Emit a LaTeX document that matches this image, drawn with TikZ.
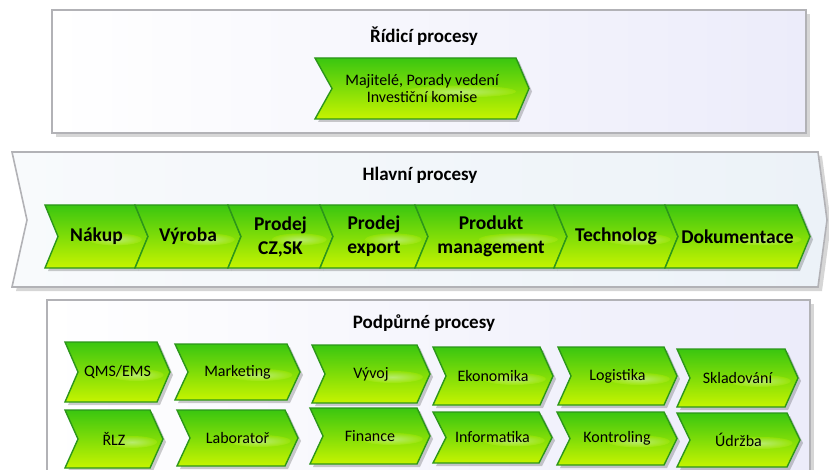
\documentclass[tikz,border=0pt]{standalone}
\usepackage{fontspec}
\setmainfont{Carlito}
\definecolor{chevtop}{RGB}{58,198,16}
\definecolor{chevmid}{RGB}{132,222,18}
\definecolor{chevbot}{RGB}{198,244,0}
\definecolor{chevline}{RGB}{44,150,26}
\definecolor{panelline}{RGB}{178,178,182}
\definecolor{panellav}{RGB}{236,236,250}
\definecolor{bannerleft}{RGB}{248,250,252}
\definecolor{bannerright}{RGB}{236,242,248}

% chevron: style, name, left, right (tip), top, bottom, notch depth, tip depth, label
\newcommand{\procchev}[9]{%
  \begin{scope}[shift={(3,3)}]
    \fill[chevshadow] (#3,#5) -- ({#4-#8},#5) -- (#4,{(#5+#6)/2}) -- ({#4-#8},#6)
      -- (#3,#6) -- ({#3+#7},{(#5+#6)/2}) -- cycle;
  \end{scope}
  \path[chevbody] (#3,#5) -- ({#4-#8},#5) -- (#4,{(#5+#6)/2}) -- ({#4-#8},#6)
    -- (#3,#6) -- ({#3+#7},{(#5+#6)/2}) -- cycle;
  \shade[chevgloss] ({(#3+#4)/2+0.18*(#4-#3)},{(#5+#6)/2+3}) ellipse [x radius={0.26*(#4-#3)}, y radius=6];
  \node[#1] (#2) at ({(#3+#4)/2},{(#5+#6)/2}) {#9};
}

\begin{document}
\begin{tikzpicture}[x=1pt,y=-1pt,
  panel/.style={draw=panelline, line width=1.6pt, left color=white, right color=panellav},
  banner/.style={draw=panelline, line width=1.6pt, left color=bannerleft, right color=bannerright, line join=miter},
  panelshadow/.style={fill=black, opacity=0.16},
  chevbody/.style={draw=chevline, line width=1.4pt, top color=chevtop, middle color=chevmid, bottom color=chevbot, line join=miter},
  chevshadow/.style={fill=black, opacity=0.2},
  chevgloss/.style={inner color=white!75!chevmid, outer color=chevmid!50!chevbot, opacity=0.55},
  title/.style={font=\bfseries\fontsize{19}{22}\selectfont, text=black},
  mainlabel/.style={font=\bfseries\fontsize{19.5}{24}\selectfont, align=center, text=black},
  sublabel/.style={font=\fontsize{16}{17}\selectfont, align=center, text=black},
  toplabel/.style={font=\fontsize{16}{17.5}\selectfont, align=center, text=black}]

\useasboundingbox[fill=white] (0,0) rectangle (829,470);

% --- control processes panel
\fill[panelshadow] (56,14) rectangle (810,137);
\path[panel] (52,10) rectangle (806,133);
\node[title] (ridici) at (424,36) {Řídicí procesy};
\procchev{toplabel}{vedeni}{315}{529}{58}{119}{17}{13}{Majitelé, Porady vedení\\Investiční komise}

% --- main processes banner
\fill[panelshadow, shift={(4,4)}] (12,152) -- (818,152) -- (827,220) -- (818,287)
  -- (12,287) -- (27,220) -- cycle;
\path[banner] (12,152) -- (818,152) -- (827,220) -- (818,287) -- (12,287) -- (27,220) -- cycle;
\node[title] (hlavni) at (420,175) {Hlavní procesy};

\procchev{mainlabel}{nakup}{45}{148}{205}{268}{13}{13}{Nákup}
\procchev{mainlabel}{vyroba}{135}{241}{205}{268}{13}{13}{Výroba}
\procchev{mainlabel}{prodejcz}{228}{333}{205}{268}{13}{13}{Prodej\\CZ,SK}
\procchev{mainlabel}{prodejexp}{320}{428}{205}{268}{13}{13}{Prodej\\export}
\procchev{mainlabel}{produkt}{415}{567}{205}{268}{13}{13}{Produkt\\management}
\procchev{mainlabel}{technolog}{554}{678}{205}{268}{13}{13}{Technolog}
\procchev{mainlabel}{dokumentace}{665}{810}{205}{268}{13}{13}{Dokumentace}

% --- support processes panel
\fill[panelshadow] (51,304) rectangle (814,480);
\path[panel] (47,300) rectangle (810,480);
\node[title] (podpurne) at (424,323) {Podpůrné procesy};

\procchev{sublabel}{qms}{65}{170}{342}{402}{13}{13}{QMS/EMS}
\procchev{sublabel}{marketing}{175}{300}{344}{400}{13}{13}{Marketing}
\procchev{sublabel}{vyvoj}{312}{430}{345}{403}{13}{13}{Vývoj}
\procchev{sublabel}{ekonomika}{433}{553}{347}{405}{13}{13}{Ekonomika}
\procchev{sublabel}{logistika}{558}{677}{347}{405}{13}{13}{Logistika}
\procchev{sublabel}{skladovani}{677}{798}{349}{407}{13}{13}{Skladování}

\procchev{sublabel}{rlz}{65}{163}{410}{468}{13}{13}{ŘLZ}
\procchev{sublabel}{laborator}{177}{298}{410}{466}{13}{13}{Laboratoř}
\procchev{sublabel}{finance}{310}{430}{408}{464}{13}{13}{Finance}
\procchev{sublabel}{informatika}{433}{552}{412}{463}{13}{13}{Informatika}
\procchev{sublabel}{kontroling}{557}{677}{412}{465}{13}{13}{Kontroling}
\procchev{sublabel}{udrzba}{677}{800}{413}{467}{13}{13}{Údržba}
\end{tikzpicture}
\end{document}
